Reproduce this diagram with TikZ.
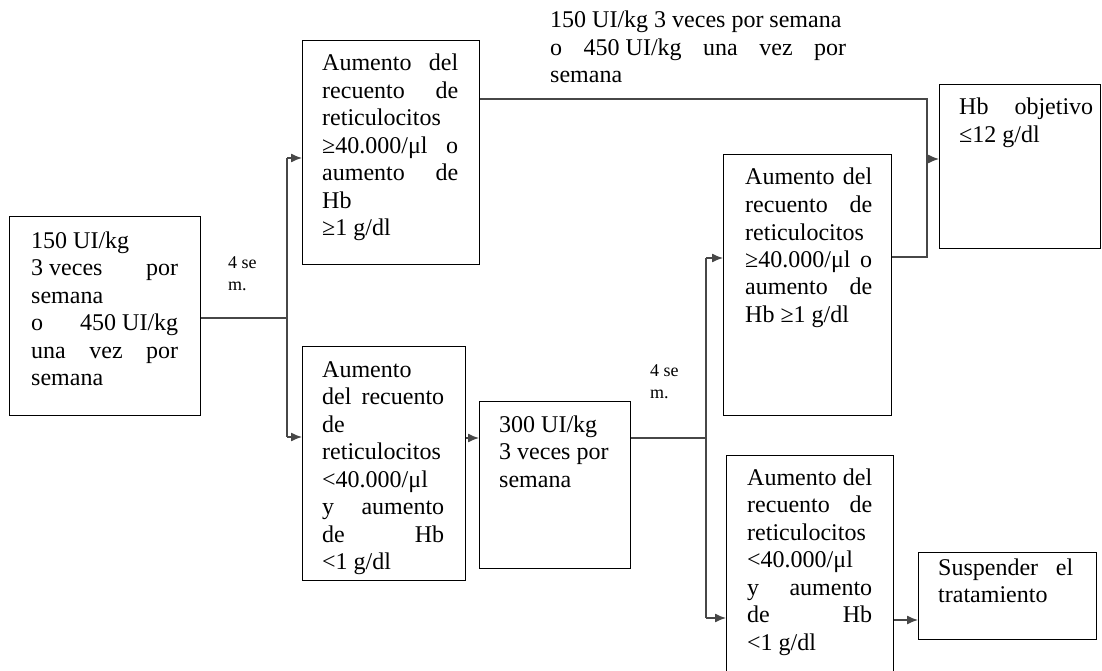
\documentclass[tikz,border=0pt]{standalone}
\usepackage{fontspec}
\setmainfont{Liberation Serif}
\usetikzlibrary{arrows.meta,calc}
\newcommand{\jl}[1]{\makebox[\linewidth][s]{#1}}
\newcommand{\bt}[2]{\parbox[t]{#1}{\fontsize{24}{27.5}\selectfont #2}}
\newcommand{\st}[1]{\parbox[t]{40pt}{\fontsize{18}{22}\selectfont #1}}
\begin{document}
\begin{tikzpicture}[x=1pt,y=-1pt,
  box/.style={draw=black,line width=1.3pt,inner sep=0pt,anchor=north west,fill=none},
  txt/.style={anchor=base west,inner sep=0pt},
  conn/.style={draw=black!72,line width=1.3pt},
  arr/.style={conn,-{Latex[length=11pt,width=9pt]}}]
\useasboundingbox (0,0) rectangle (1102,671);
% boxes
\node[box,minimum width=191pt,minimum height=199pt] (A) at (9,216) {};
\node[box,minimum width=177pt,minimum height=224pt] (B) at (302,40) {};
\node[box,minimum width=163pt,minimum height=234pt] (C) at (302,346) {};
\node[box,minimum width=151pt,minimum height=167pt] (D) at (479,401) {};
\node[box,minimum width=168pt,minimum height=261pt] (E) at (723,154) {};
\node[box,minimum width=161pt,minimum height=164pt] (F) at (939,84) {};
\node[box,minimum width=167pt,minimum height=225pt] (G) at (726,455) {};
\node[box,minimum width=178pt,minimum height=87pt] (H) at (918,552) {};
% texts
\node[txt] (At) at (31,248) {\bt{147pt}{150\kern0.25em UI/kg\\ \jl{3\kern0.25em veces por}\\ semana\\ \jl{o 450\kern0.25em UI/kg}\\ \jl{una vez por}\\ semana}};
\node[txt] (Bt) at (322,71) {\bt{136pt}{\jl{Aumento del}\\ \jl{recuento de}\\ reticulocitos\\ \jl{≥40.000/μl o}\\ \jl{aumento de}\\ Hb\\ ≥1 g/dl}};
\node[txt] (Ct) at (322,377) {\bt{122pt}{Aumento\\ \jl{del recuento}\\ de\\ reticulocitos\\ <40.000/μl\\ \jl{y aumento}\\ \jl{de Hb}\\ <1 g/dl}};
\node[txt] (Dt) at (499,432) {\bt{125pt}{300 UI/kg\\ 3 veces por\\ semana}};
\node[txt] (Et) at (745,185) {\bt{127pt}{\jl{Aumento del}\\ \jl{recuento de}\\ reticulocitos\\ \jl{≥40.000/μl o}\\ \jl{aumento de}\\ Hb ≥1 g/dl}};
\node[txt] (Ft) at (959,115) {\bt{134pt}{\jl{Hb objetivo}\\ ≤12 g/dl}};
\node[txt] (Gt) at (747,485) {\bt{125pt}{\jl{Aumento del}\\ \jl{recuento de}\\ reticulocitos\\ <40.000/μl\\ \jl{y aumento}\\ \jl{de Hb}\\ <1 g/dl}};
\node[txt] (Ht) at (938,575) {\bt{135pt}{\jl{Suspender el}\\ tratamiento}};
\node[txt] (Top) at (550,28) {\bt{296pt}{150 UI/kg 3 veces por semana\\ \jl{o 450\kern0.25em UI/kg una vez por}\\ semana}};
\node[txt] (L1) at (228,268) {\st{4 se\\ m.}};
\node[txt] (L2) at (650,376) {\st{4 se\\ m.}};
% junction coordinates
\coordinate (j1) at (287,318);
\coordinate (j1t) at (287,158);
\coordinate (j1b) at (287,437);
\coordinate (j2) at (706,438);
\coordinate (j2t) at (706,258);
\coordinate (j2b) at (706,618);
\coordinate (j3t) at (927,99);
\coordinate (j3m) at (927,159);
\coordinate (j3b) at (927,257);
\coordinate (j4) at (905,620);
% connectors
\draw[conn] (A.east |- j1) -- (j1);
\draw[conn] (j1t) -- (j1b);
\draw[arr] (j1t) -- (j1t -| B.west);
\draw[arr] (j1b) -- (j1b -| C.west);
\draw[arr] (C.east |- j2) -- (D.west |- j2);
\draw[conn] (D.east |- j2) -- (j2);
\draw[conn] (j2t) -- (j2b);
\draw[arr] (j2t) -- (j2t -| E.west);
\draw[arr] (j2b) -- (j2b -| G.west);
\draw[conn] (B.east |- j3t) -- (j3t) -- (j3b) -- (E.east |- j3b);
\draw[arr] (j3m) -- (j3m -| F.west);
\draw[arr] (G.east |- j4) -- (H.west |- j4);
\end{tikzpicture}
\end{document}
